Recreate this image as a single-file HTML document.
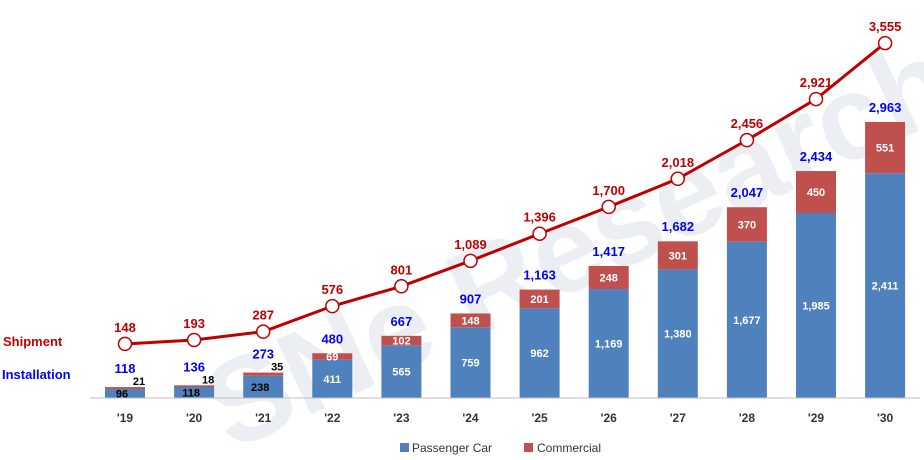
<!DOCTYPE html>
<html><head><meta charset="utf-8"><style>
body{margin:0;background:#fff;}
svg{display:block;font-family:"Liberation Sans",Arial,sans-serif;}
</style></head><body>
<svg id="chart" width="924" height="460" viewBox="0 0 924 460">
<text x="160" y="330" font-size="120" font-weight="bold" fill="#dfe6ee" opacity="0.6" transform="rotate(-25 470 230)">SNe Research</text>
<g id="bars"></g>
<g id="line"></g>
<line x1="90" y1="398" x2="920" y2="398" stroke="#bfbfbf" stroke-width="1"/>
<g id="xlabels"></g>
<text x="3" y="346" font-size="13" font-weight="bold" fill="#c00000">Shipment</text>
<text x="2" y="379" font-size="13" font-weight="bold" fill="#0000ff">Installation</text>
<g>
<rect x="400" y="443" width="9" height="9" fill="#4f81bd"/>
<text x="412" y="452" font-size="12" fill="#333">Passenger Car</text>
<rect x="524" y="443" width="9" height="9" fill="#c0504d"/>
<text x="537" y="452" font-size="12" fill="#333">Commercial</text>
</g>
</svg>
<script>
const categories=["'19","'20","'21","'22","'23","'24","'25","'26","'27","'28","'29","'30"];
const passenger=[96,118,238,411,565,759,962,1169,1380,1677,1985,2411];
const commercial=[21,18,35,69,102,148,201,248,301,370,450,551];
const installation=[118,136,273,480,667,907,1163,1417,1682,2047,2434,2963];
const shipment=[148,193,287,576,801,1089,1396,1700,2018,2456,2921,3555];
const NS="http://www.w3.org/2000/svg";
const x=i=>125+i*69.1;
const yb=v=>398-v*0.0932;
const yl=v=>357-v*0.0883;
const fmt=v=>v.toLocaleString('en-US');
function mk(tag,attrs,parent,txt){const e=document.createElementNS(NS,tag);for(const k in attrs)e.setAttribute(k,attrs[k]);if(txt!==undefined)e.textContent=txt;parent.appendChild(e);return e;}
const bars=document.getElementById('bars'),line=document.getElementById('line'),xl=document.getElementById('xlabels');
const bw=40;
categories.forEach((c,i)=>{
 const cx=x(i);
 const p=mk('rect',{x:cx-bw/2,y:yb(passenger[i]),width:bw,height:398-yb(passenger[i]),fill:'#4f81bd'},bars);
 
 
 const tot=passenger[i]+commercial[i];
 const r=mk('rect',{x:cx-bw/2,y:yb(tot),width:bw,height:yb(passenger[i])-yb(tot),fill:'#c0504d'},bars);
 
 
 const small=i<3;
 const pt=mk('text',{x:small?cx-3:cx,y:small?(yb(passenger[i])/2+398/2+4):(yb(passenger[i])+398)/2+4,'text-anchor':'middle','font-size':11,'font-weight':'bold',fill:small?'#000':'#fff'},bars,fmt(passenger[i]));
 
 
 const ct=mk('text',{x:small?cx+14:cx,y:small?yb(tot)-2:(yb(tot)+yb(passenger[i]))/2+4,'text-anchor':'middle','font-size':11,'font-weight':'bold',fill:small?'#000':'#fff'},bars,fmt(commercial[i]));
 
 
 const it=mk('text',{x:cx,y:yb(installation[i])-(small?14:10),'text-anchor':'middle','font-size':13,'font-weight':'bold',fill:'#0000ff'},bars,fmt(installation[i]));
 
 
 const xt=mk('text',{x:cx,y:422,'text-anchor':'middle','font-size':12,'font-weight':'bold',fill:'#333'},xl,c);
 
 
});
const pts=shipment.map((v,i)=>x(i)+','+yl(v)).join(' ');
const pl=mk('polyline',{points:pts,fill:'none',stroke:'#c00000','stroke-width':3},line);


shipment.forEach((v,i)=>{
 const c=mk('circle',{cx:x(i),cy:yl(v),r:6.5,fill:'#fff',stroke:'#c00000','stroke-width':1.5},line);
 
 
 const t=mk('text',{x:x(i),y:yl(v)-12,'text-anchor':'middle','font-size':13,'font-weight':'bold',fill:'#c00000'},line,fmt(v));
 
 
});
</script>
</body></html>
